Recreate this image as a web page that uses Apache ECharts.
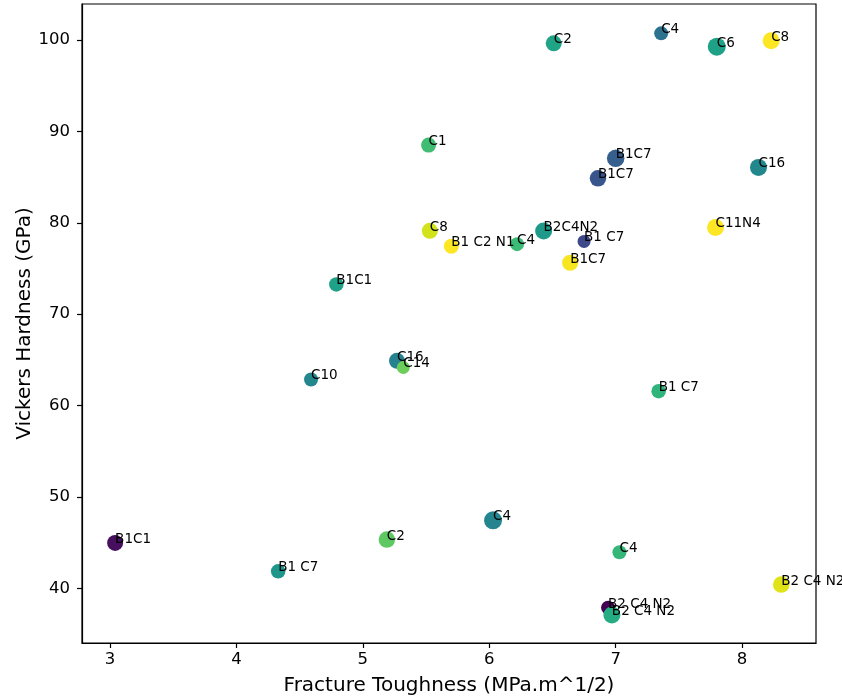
<!DOCTYPE html>
<html>
<head>
<meta charset="utf-8">
<script src="https://cdn.jsdelivr.net/npm/echarts@6/dist/echarts.min.js"></script>
<style>
html,body{margin:0;padding:0;background:#fff;}
#chart{width:842px;height:697px;}
</style>
</head>
<body>
<div id="chart"></div>
<script>
// Data
var labels = ['B1C1','B1 C7','C2','C4','C4','B2 C4 N2','B2 C4 N2','B2 C4 N2','B1 C7','C10','C16','C14','B1C1','C8','B1 C2 N1','C1','C4','B2C4N2','B1 C7','B1C7','B1C7','B1C7','C2','C4','C6','C8','C16','C11N4'];
var toughness = [3.04,4.33,5.19,6.03,7.03,6.94,6.97,8.31,7.34,4.59,5.27,5.32,4.79,5.53,5.70,5.52,6.22,6.43,6.75,6.64,7.00,6.86,6.51,7.36,7.80,8.23,8.13,7.79];
var hardness = [44.96,41.86,45.33,47.44,43.94,37.88,37.07,40.40,61.57,62.85,64.89,64.16,73.25,79.12,77.44,88.50,77.66,79.09,77.96,75.62,87.05,84.86,99.64,100.73,99.27,99.92,86.06,79.49];
var markerSizes = [16,14.5,16.5,18,14,14,17,16.5,14.5,14,16,13,14.5,16,15,15,14,17,13,16,17.5,16.5,16,14,18,17,17,17];
var markerColors = ['#46105f','#1f968b','#5ec962','#25858e','#35b779','#440154','#25ac82','#dfe318','#2fb47c','#24878e','#26828e','#6ccd5a','#1fa187','#d2e21b','#fde725','#40bd72','#3bbb75','#1f9a8a','#3e4989','#f5e61f','#355f8d','#39568c','#20a486','#2c728e','#1fa187','#fde725','#23888e','#fde725'];
var xTicks = [3,4,5,6,7,8];
var yTicks = [40,50,60,70,80,90,100];

var points = labels.map(function(n,i){
  return {name:n, value:[toughness[i], hardness[i]], symbolSize:markerSizes[i], itemStyle:{color:markerColors[i], opacity:1}};
});

var FONT = 'DejaVu Sans';
var chart = echarts.init(document.getElementById('chart'), null, {renderer:'canvas'});
chart.setOption({
  animation:false,
  backgroundColor:'#ffffff',
  grid:{left:82,right:26,top:4,bottom:54,show:true,borderColor:'#000',borderWidth:1.2,outerBoundsMode:'none',containLabel:false},
  xAxis:{
    type:'value', min:2.778, max:8.585,
    name:'Fracture Toughness (MPa.m^1/2)', nameLocation:'middle', nameGap:33, nameMoveOverlap:false,
    nameTextStyle:{fontFamily:FONT,fontSize:20,color:'#000'},
    splitLine:{show:false},
    axisLine:{show:true,onZero:false,lineStyle:{color:'#000',width:1.2}},
    axisTick:{show:true,length:5,lineStyle:{color:'#000',width:1.2},customValues:xTicks},
    axisLabel:{fontFamily:FONT,fontSize:16.5,color:'#000',margin:8,customValues:xTicks,formatter:function(v){return String(v);}}
  },
  yAxis:{
    type:'value', min:34.01, max:103.94,
    name:'Vickers Hardness (GPa)', nameLocation:'middle', nameGap:47, nameMoveOverlap:false,
    nameTextStyle:{fontFamily:FONT,fontSize:20,color:'#000'},
    splitLine:{show:false},
    axisLine:{show:true,onZero:false,lineStyle:{color:'#000',width:1.2}},
    axisTick:{show:true,length:5,lineStyle:{color:'#000',width:1.2},customValues:yTicks},
    axisLabel:{fontFamily:FONT,fontSize:16.5,color:'#000',margin:12,customValues:yTicks,formatter:function(v){return String(v);}}
  },
  series:[{
    type:'scatter',
    data:points,
    symbol:'circle',
    itemStyle:{opacity:1},
    label:{
      show:true,
      position:'inside',
      align:'left',
      verticalAlign:'bottom',
      lineHeight:7,
      fontFamily:FONT,
      fontSize:13.5,
      color:'#000',
      opacity:1,
      formatter:function(p){return p.name;}
    },
    labelLayout:{hideOverlap:false},
    emphasis:{disabled:true}
  }]
});
</script>
</body>
</html>
